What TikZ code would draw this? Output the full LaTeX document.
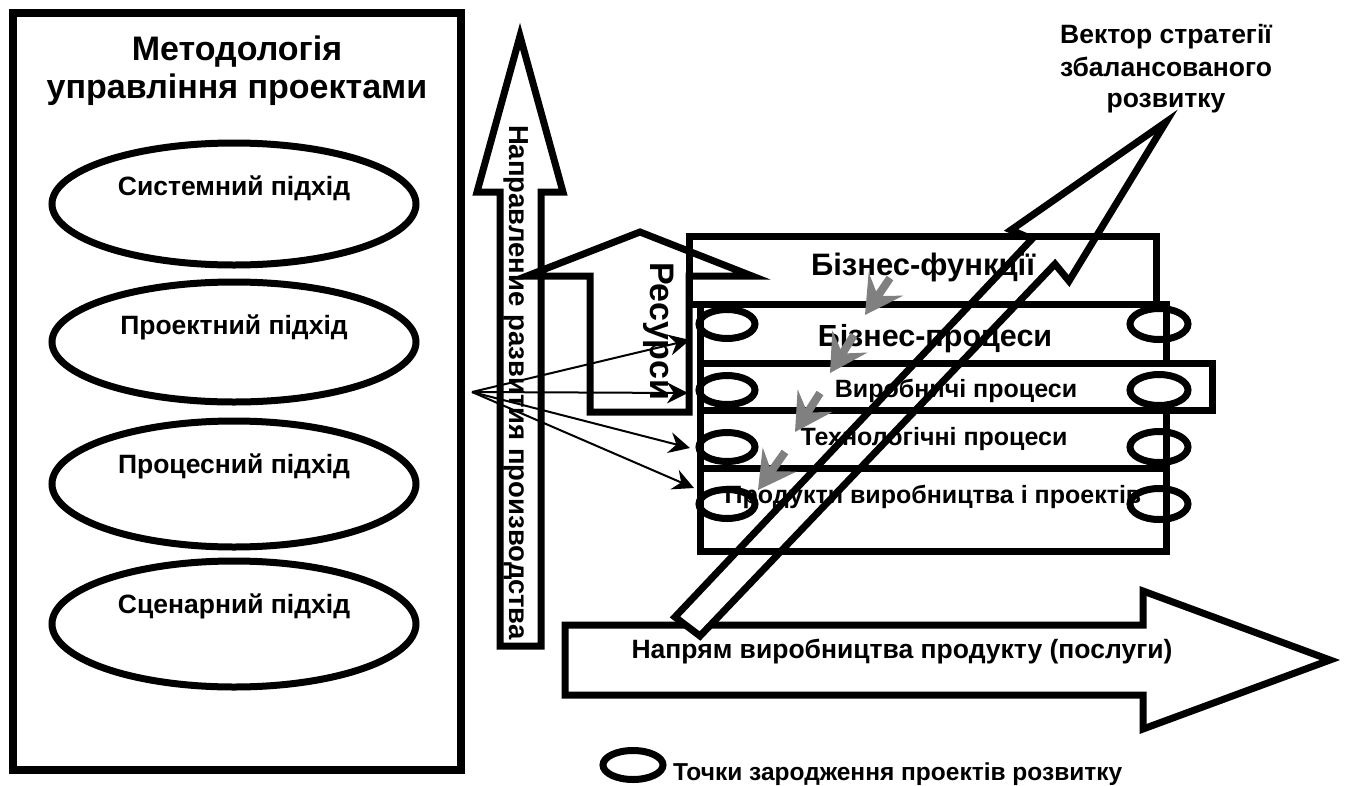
\documentclass[tikz,border=0pt]{standalone}
\usepackage{fontspec}
\setmainfont{Liberation Sans}
\usetikzlibrary{arrows.meta,shapes.geometric}
\definecolor{arrgrey}{RGB}{128,128,128}
\begin{document}
\begin{tikzpicture}[x=1pt,y=-1pt,
  heavy/.style={draw=black, line width=7pt, line join=miter, miter limit=10},
  boxnode/.style={heavy, rectangle, inner sep=0pt, outer sep=0pt},
  ovalnode/.style={heavy, ellipse, inner sep=0pt, outer sep=0pt},
  lbl/.style={inner sep=0pt, outer sep=0pt, font=\bfseries\fontsize{#1}{#1}\selectfont},
  thinarrow/.style={line width=2pt, -{Stealth[length=21pt,width=21pt,inset=7pt]}},
  greyarrow/.style={draw=arrgrey, line width=8pt, -{Stealth[length=37pt,width=41pt,inset=14pt]}}
]
\useasboundingbox (0,0) rectangle (1350,785);
\fill[white] (0,0) rectangle (1350,785);

% ---------- left methodology box ----------
\node[boxnode, line width=8pt, minimum width=448pt, minimum height=757pt] (method) at (237,391.5) {};
\node[lbl=34, anchor=base] (title1) at (237,60) {Методологія};
\node[lbl=34, anchor=base] (title2) at (237,98) {управління проектами};

\node[ovalnode, minimum width=364pt, minimum height=122pt] (e1) at (234,204) {};
\node[ovalnode, minimum width=364pt, minimum height=120pt] (e2) at (234,342) {};
\node[ovalnode, minimum width=364pt, minimum height=126pt] (e3) at (234,484) {};
\node[ovalnode, minimum width=364pt, minimum height=126pt] (e4) at (234,624) {};
\node[lbl=26.5, anchor=base] (t1) at (234,195) {Системний підхід};
\node[lbl=26.5, anchor=base] (t2) at (234,334) {Проектний підхід};
\node[lbl=26.5, anchor=base] (t3) at (234,473) {Процесний підхід};
\node[lbl=26.5, anchor=base] (t4) at (234,613) {Сценарний підхід};

% ---------- vertical development arrow ----------
\draw[heavy] (500,646) -- (500,192) -- (477,192) -- (520,36) -- (563,192) -- (541,192) -- (541,646) -- cycle;
\node[lbl=27.5, rotate=-90, anchor=base west] (devtext) at (509,125) {Направление развития производства};

% ---------- bottom production arrow ----------
\draw[heavy] (565,625) -- (1143,625) -- (1143,591) -- (1330,660) -- (1143,729) -- (1143,695) -- (565,695) -- cycle;
\node[lbl=26.5, anchor=base] (prodtext) at (902,658) {Напрям виробництва продукту (послуги)};

% ---------- diagonal strategy vector ----------
\draw[heavy, fill=white] (675,617) -- (700,636) -- (1055,264) -- (1069,281) -- (1166,122) -- (1011,230) -- (1032,239) -- cycle;
\node[lbl=26.5, anchor=base] (vec1) at (1166,43) {Вектор стратегії};
\node[lbl=26.5, anchor=base] (vec2) at (1166,76) {збалансованого};
\node[lbl=26.5, anchor=base] (vec3) at (1166,107) {розвитку};

% ---------- resources arrow ----------
\draw[heavy] (590,412) -- (590,276) -- (527,276) -- (640,232) -- (752,276) -- (689,276) -- (689,412) -- cycle;
\node[lbl=34, rotate=-90, anchor=base west] (restext) at (650,262) {Ресурси};

% ---------- stacked layers ----------
\node[boxnode, minimum width=467pt, minimum height=68pt] (bf) at (922.5,270) {};
\node[boxnode, minimum width=466pt, minimum height=59pt] (bp) at (933,333.5) {};
\node[boxnode, minimum width=512pt, minimum height=47pt] (vp) at (956,386.5) {};
\node[boxnode, minimum width=466pt, minimum height=58pt] (tp) at (933,439) {};
\node[boxnode, minimum width=466pt, minimum height=83pt] (pp) at (933,509.5) {};

\foreach \nm/\yy in {a/324,b/390,c/447,d/504}{
  \node[ovalnode, minimum width=56pt, minimum height=29pt] (L\nm) at (727,\yy) {};
  \node[ovalnode, minimum width=58pt, minimum height=31pt] (R\nm) at (1159,\yy) {};
}

\node[lbl=31, anchor=base] (bftext) at (923,275) {Бізнес-функції};
\node[lbl=30.5, anchor=base] (bptext) at (935,346) {Бізнес-процеси};
\node[lbl=25, anchor=base] (vptext) at (956,397) {Виробничі процеси};
\node[lbl=25, anchor=base] (tptext) at (934,445) {Технологічні процеси};
\node[lbl=25, anchor=base] (pptext) at (933,503) {Продукти виробництва і проектів};

% ---------- grey cascade arrows ----------
\coordinate (g1s) at (890,278); \coordinate (g1e) at (865,315);
\coordinate (g2s) at (854,335); \coordinate (g2e) at (830,373);
\coordinate (g3s) at (820,393); \coordinate (g3e) at (795,432);
\coordinate (g4s) at (785,452); \coordinate (g4e) at (758,490);
\draw[greyarrow] (g1s) -- (g1e);
\draw[greyarrow] (g2s) -- (g2e);
\draw[greyarrow] (g3s) -- (g3e);
\draw[greyarrow] (g4s) -- (g4e);

% ---------- thin arrows from methodology ----------
\coordinate (src) at (472,392);
\coordinate (h1) at (690,340);
\coordinate (h2) at (688,393);
\coordinate (h3) at (690,448);
\coordinate (h4) at (694,488);
\draw[thinarrow] (src) -- (h1);
\draw[thinarrow] (src) -- (h2);
\draw[thinarrow] (src) -- (h3);
\draw[thinarrow] (src) -- (h4);

% ---------- legend ----------
\node[ovalnode, minimum width=60pt, minimum height=29pt] (legoval) at (633,765) {};
\node[lbl=24.5, anchor=base west] (legtext) at (673,780) {Точки зародження проектів розвитку};
\end{tikzpicture}
\end{document}
